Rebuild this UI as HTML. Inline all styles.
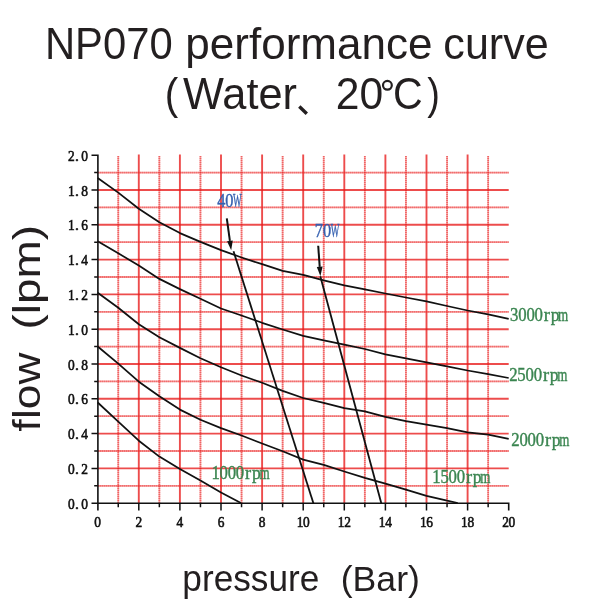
<!DOCTYPE html>
<html><head><meta charset="utf-8"><style>
html,body{margin:0;padding:0;background:#fff;width:597px;height:612px;overflow:hidden}
svg{position:absolute;left:0;top:0;will-change:transform}
.t{font-family:"Liberation Sans",sans-serif;fill:#231f20}
.n{font-family:"Liberation Serif",serif;font-size:15.6px;fill:#111;stroke:#111;stroke-width:0.62}
.g{font-family:"Liberation Serif",serif;font-size:18.6px;fill:#3a8550;stroke:#3a8550;stroke-width:0.4}
.b{font-family:"Liberation Serif",serif;font-size:19px;fill:#3560b0;stroke:#3560b0;stroke-width:0.4}
</style></head><body>
<svg width="597" height="612" viewBox="0 0 597 612">
<line x1="118.25" y1="156.0" x2="118.25" y2="503.2" stroke="rgb(236,40,40)" stroke-opacity="0.45" stroke-width="1.8"/>
<line x1="118.25" y1="156.0" x2="118.25" y2="503.2" stroke="rgb(236,40,40)" stroke-opacity="0.5" stroke-width="1.8" stroke-dasharray="1.1 0.9"/>
<line x1="138.80" y1="154.5" x2="138.80" y2="503.2" stroke="rgb(232,25,25)" stroke-opacity="0.78" stroke-width="1.9"/>
<line x1="159.35" y1="156.0" x2="159.35" y2="503.2" stroke="rgb(236,40,40)" stroke-opacity="0.45" stroke-width="1.8"/>
<line x1="159.35" y1="156.0" x2="159.35" y2="503.2" stroke="rgb(236,40,40)" stroke-opacity="0.5" stroke-width="1.8" stroke-dasharray="1.1 0.9"/>
<line x1="179.90" y1="154.5" x2="179.90" y2="503.2" stroke="rgb(232,25,25)" stroke-opacity="0.78" stroke-width="1.9"/>
<line x1="200.45" y1="156.0" x2="200.45" y2="503.2" stroke="rgb(236,40,40)" stroke-opacity="0.45" stroke-width="1.8"/>
<line x1="200.45" y1="156.0" x2="200.45" y2="503.2" stroke="rgb(236,40,40)" stroke-opacity="0.5" stroke-width="1.8" stroke-dasharray="1.1 0.9"/>
<line x1="221.00" y1="154.5" x2="221.00" y2="503.2" stroke="rgb(232,25,25)" stroke-opacity="0.78" stroke-width="1.9"/>
<line x1="241.55" y1="156.0" x2="241.55" y2="503.2" stroke="rgb(236,40,40)" stroke-opacity="0.45" stroke-width="1.8"/>
<line x1="241.55" y1="156.0" x2="241.55" y2="503.2" stroke="rgb(236,40,40)" stroke-opacity="0.5" stroke-width="1.8" stroke-dasharray="1.1 0.9"/>
<line x1="262.10" y1="154.5" x2="262.10" y2="503.2" stroke="rgb(232,25,25)" stroke-opacity="0.78" stroke-width="1.9"/>
<line x1="282.65" y1="156.0" x2="282.65" y2="503.2" stroke="rgb(236,40,40)" stroke-opacity="0.45" stroke-width="1.8"/>
<line x1="282.65" y1="156.0" x2="282.65" y2="503.2" stroke="rgb(236,40,40)" stroke-opacity="0.5" stroke-width="1.8" stroke-dasharray="1.1 0.9"/>
<line x1="303.20" y1="154.5" x2="303.20" y2="503.2" stroke="rgb(232,25,25)" stroke-opacity="0.78" stroke-width="1.9"/>
<line x1="323.75" y1="156.0" x2="323.75" y2="503.2" stroke="rgb(236,40,40)" stroke-opacity="0.45" stroke-width="1.8"/>
<line x1="323.75" y1="156.0" x2="323.75" y2="503.2" stroke="rgb(236,40,40)" stroke-opacity="0.5" stroke-width="1.8" stroke-dasharray="1.1 0.9"/>
<line x1="344.30" y1="154.5" x2="344.30" y2="503.2" stroke="rgb(232,25,25)" stroke-opacity="0.78" stroke-width="1.9"/>
<line x1="364.85" y1="156.0" x2="364.85" y2="503.2" stroke="rgb(236,40,40)" stroke-opacity="0.45" stroke-width="1.8"/>
<line x1="364.85" y1="156.0" x2="364.85" y2="503.2" stroke="rgb(236,40,40)" stroke-opacity="0.5" stroke-width="1.8" stroke-dasharray="1.1 0.9"/>
<line x1="385.40" y1="154.5" x2="385.40" y2="503.2" stroke="rgb(232,25,25)" stroke-opacity="0.78" stroke-width="1.9"/>
<line x1="405.95" y1="156.0" x2="405.95" y2="503.2" stroke="rgb(236,40,40)" stroke-opacity="0.45" stroke-width="1.8"/>
<line x1="405.95" y1="156.0" x2="405.95" y2="503.2" stroke="rgb(236,40,40)" stroke-opacity="0.5" stroke-width="1.8" stroke-dasharray="1.1 0.9"/>
<line x1="426.50" y1="154.5" x2="426.50" y2="503.2" stroke="rgb(232,25,25)" stroke-opacity="0.78" stroke-width="1.9"/>
<line x1="447.05" y1="156.0" x2="447.05" y2="503.2" stroke="rgb(236,40,40)" stroke-opacity="0.45" stroke-width="1.8"/>
<line x1="447.05" y1="156.0" x2="447.05" y2="503.2" stroke="rgb(236,40,40)" stroke-opacity="0.5" stroke-width="1.8" stroke-dasharray="1.1 0.9"/>
<line x1="467.60" y1="154.5" x2="467.60" y2="503.2" stroke="rgb(232,25,25)" stroke-opacity="0.78" stroke-width="1.9"/>
<line x1="488.15" y1="156.0" x2="488.15" y2="503.2" stroke="rgb(236,40,40)" stroke-opacity="0.45" stroke-width="1.8"/>
<line x1="488.15" y1="156.0" x2="488.15" y2="503.2" stroke="rgb(236,40,40)" stroke-opacity="0.5" stroke-width="1.8" stroke-dasharray="1.1 0.9"/>
<line x1="97.7" y1="485.80" x2="508.7" y2="485.80" stroke="rgb(236,40,40)" stroke-opacity="0.45" stroke-width="1.8"/>
<line x1="97.7" y1="485.80" x2="508.7" y2="485.80" stroke="rgb(236,40,40)" stroke-opacity="0.5" stroke-width="1.8" stroke-dasharray="1.1 0.9"/>
<line x1="97.7" y1="468.40" x2="508.7" y2="468.40" stroke="rgb(232,25,25)" stroke-opacity="0.78" stroke-width="1.9"/>
<line x1="97.7" y1="451.00" x2="508.7" y2="451.00" stroke="rgb(236,40,40)" stroke-opacity="0.45" stroke-width="1.8"/>
<line x1="97.7" y1="451.00" x2="508.7" y2="451.00" stroke="rgb(236,40,40)" stroke-opacity="0.5" stroke-width="1.8" stroke-dasharray="1.1 0.9"/>
<line x1="97.7" y1="433.60" x2="508.7" y2="433.60" stroke="rgb(232,25,25)" stroke-opacity="0.78" stroke-width="1.9"/>
<line x1="97.7" y1="416.20" x2="508.7" y2="416.20" stroke="rgb(236,40,40)" stroke-opacity="0.45" stroke-width="1.8"/>
<line x1="97.7" y1="416.20" x2="508.7" y2="416.20" stroke="rgb(236,40,40)" stroke-opacity="0.5" stroke-width="1.8" stroke-dasharray="1.1 0.9"/>
<line x1="97.7" y1="398.80" x2="508.7" y2="398.80" stroke="rgb(232,25,25)" stroke-opacity="0.78" stroke-width="1.9"/>
<line x1="97.7" y1="381.40" x2="508.7" y2="381.40" stroke="rgb(236,40,40)" stroke-opacity="0.45" stroke-width="1.8"/>
<line x1="97.7" y1="381.40" x2="508.7" y2="381.40" stroke="rgb(236,40,40)" stroke-opacity="0.5" stroke-width="1.8" stroke-dasharray="1.1 0.9"/>
<line x1="97.7" y1="364.00" x2="508.7" y2="364.00" stroke="rgb(232,25,25)" stroke-opacity="0.78" stroke-width="1.9"/>
<line x1="97.7" y1="346.60" x2="508.7" y2="346.60" stroke="rgb(236,40,40)" stroke-opacity="0.45" stroke-width="1.8"/>
<line x1="97.7" y1="346.60" x2="508.7" y2="346.60" stroke="rgb(236,40,40)" stroke-opacity="0.5" stroke-width="1.8" stroke-dasharray="1.1 0.9"/>
<line x1="97.7" y1="329.20" x2="508.7" y2="329.20" stroke="rgb(232,25,25)" stroke-opacity="0.78" stroke-width="1.9"/>
<line x1="97.7" y1="311.80" x2="508.7" y2="311.80" stroke="rgb(236,40,40)" stroke-opacity="0.45" stroke-width="1.8"/>
<line x1="97.7" y1="311.80" x2="508.7" y2="311.80" stroke="rgb(236,40,40)" stroke-opacity="0.5" stroke-width="1.8" stroke-dasharray="1.1 0.9"/>
<line x1="97.7" y1="294.40" x2="508.7" y2="294.40" stroke="rgb(232,25,25)" stroke-opacity="0.78" stroke-width="1.9"/>
<line x1="97.7" y1="277.00" x2="508.7" y2="277.00" stroke="rgb(236,40,40)" stroke-opacity="0.45" stroke-width="1.8"/>
<line x1="97.7" y1="277.00" x2="508.7" y2="277.00" stroke="rgb(236,40,40)" stroke-opacity="0.5" stroke-width="1.8" stroke-dasharray="1.1 0.9"/>
<line x1="97.7" y1="259.60" x2="508.7" y2="259.60" stroke="rgb(232,25,25)" stroke-opacity="0.78" stroke-width="1.9"/>
<line x1="97.7" y1="242.20" x2="508.7" y2="242.20" stroke="rgb(236,40,40)" stroke-opacity="0.45" stroke-width="1.8"/>
<line x1="97.7" y1="242.20" x2="508.7" y2="242.20" stroke="rgb(236,40,40)" stroke-opacity="0.5" stroke-width="1.8" stroke-dasharray="1.1 0.9"/>
<line x1="97.7" y1="224.80" x2="508.7" y2="224.80" stroke="rgb(232,25,25)" stroke-opacity="0.78" stroke-width="1.9"/>
<line x1="97.7" y1="207.40" x2="508.7" y2="207.40" stroke="rgb(236,40,40)" stroke-opacity="0.45" stroke-width="1.8"/>
<line x1="97.7" y1="207.40" x2="508.7" y2="207.40" stroke="rgb(236,40,40)" stroke-opacity="0.5" stroke-width="1.8" stroke-dasharray="1.1 0.9"/>
<line x1="97.7" y1="190.00" x2="508.7" y2="190.00" stroke="rgb(232,25,25)" stroke-opacity="0.78" stroke-width="1.9"/>
<line x1="97.7" y1="172.60" x2="508.7" y2="172.60" stroke="rgb(236,40,40)" stroke-opacity="0.45" stroke-width="1.8"/>
<line x1="97.7" y1="172.60" x2="508.7" y2="172.60" stroke="rgb(236,40,40)" stroke-opacity="0.5" stroke-width="1.8" stroke-dasharray="1.1 0.9"/>
<path d="M91.5 155.20 H97.9 V510.4 M97.7 503.2 H508.7 V510.4" fill="none" stroke="#111" stroke-width="1.6"/>
<path d="M91.5 503.20H97.7M94.2 485.80H97.7M91.5 468.40H97.7M94.2 451.00H97.7M91.5 433.60H97.7M94.2 416.20H97.7M91.5 398.80H97.7M94.2 381.40H97.7M91.5 364.00H97.7M94.2 346.60H97.7M91.5 329.20H97.7M94.2 311.80H97.7M91.5 294.40H97.7M94.2 277.00H97.7M91.5 259.60H97.7M94.2 242.20H97.7M91.5 224.80H97.7M94.2 207.40H97.7M91.5 190.00H97.7M94.2 172.60H97.7M118.25 503.2V507.2M138.80 503.2V510.4M159.35 503.2V507.2M179.90 503.2V510.4M200.45 503.2V507.2M221.00 503.2V510.4M241.55 503.2V507.2M262.10 503.2V510.4M282.65 503.2V507.2M303.20 503.2V510.4M323.75 503.2V507.2M344.30 503.2V510.4M364.85 503.2V507.2M385.40 503.2V510.4M405.95 503.2V507.2M426.50 503.2V510.4M447.05 503.2V507.2M467.60 503.2V510.4M488.15 503.2V507.2" fill="none" stroke="#111" stroke-width="1.5"/>
<path d="M97.70 178.00 L118.25 192.60 L138.80 208.70 L159.35 222.20 L179.90 233.10 L200.45 241.90 L221.00 250.10 L241.55 257.50 L262.10 264.20 L282.65 270.90 L303.20 274.90 L323.75 280.30 L344.30 285.30 L364.85 289.40 L385.40 293.50 L405.95 297.50 L426.50 301.40 L447.05 306.00 L467.60 310.50 L488.15 314.30 L508.70 318.90" fill="none" stroke="#111" stroke-width="1.75" stroke-linejoin="round"/>
<path d="M97.70 241.20 L118.25 253.30 L138.80 265.60 L159.35 278.90 L179.90 289.10 L200.45 298.70 L221.00 308.50 L241.55 315.50 L262.10 322.80 L282.65 329.50 L303.20 335.80 L323.75 340.30 L344.30 344.70 L364.85 349.00 L385.40 354.40 L405.95 358.40 L426.50 362.40 L447.05 366.30 L467.60 370.50 L488.15 374.10 L508.70 378.00" fill="none" stroke="#111" stroke-width="1.75" stroke-linejoin="round"/>
<path d="M97.70 292.80 L118.25 307.80 L138.80 324.20 L159.35 337.30 L179.90 347.90 L200.45 358.20 L221.00 367.20 L241.55 375.50 L262.10 382.80 L282.65 390.90 L303.20 398.00 L323.75 402.90 L344.30 408.20 L364.85 411.40 L385.40 416.80 L405.95 421.10 L426.50 424.60 L447.05 428.20 L467.60 432.40 L488.15 434.70 L508.70 438.80" fill="none" stroke="#111" stroke-width="1.75" stroke-linejoin="round"/>
<path d="M97.70 346.50 L118.25 363.60 L138.80 381.70 L159.35 396.30 L179.90 409.60 L200.45 419.70 L221.00 428.10 L241.55 435.50 L262.10 443.50 L282.65 451.30 L303.20 459.60 L323.75 464.90 L344.30 471.50 L364.85 477.80 L385.40 483.60 L405.95 489.60 L426.50 495.90 L447.05 500.70 L457.74 503.00" fill="none" stroke="#111" stroke-width="1.75" stroke-linejoin="round"/>
<path d="M97.70 402.50 L118.25 421.60 L138.80 440.70 L159.35 456.60 L179.90 469.10 L200.45 480.50 L221.00 492.50 L240.93 503.00" fill="none" stroke="#111" stroke-width="1.75" stroke-linejoin="round"/>
<path d="M233.5 251.2 L313.4 503.2" fill="none" stroke="#111" stroke-width="1.8"/>
<path d="M320.3 276.2 L381.3 503.2" fill="none" stroke="#111" stroke-width="1.8"/>
<path d="M226.80 218.30 L229.90 240.79" stroke="#111" stroke-width="2"/>
<path d="M231.20 250.20 L227.03 241.19 L232.77 240.39Z" fill="#111"/>
<path d="M318.20 245.80 L319.72 266.82" stroke="#111" stroke-width="2"/>
<path d="M320.40 276.30 L316.82 267.03 L322.61 266.62Z" fill="#111"/>
<g class="n"><text transform="translate(71.40 508.70) scale(0.860 1)" text-anchor="middle">0</text><text x="74.9" y="508.70">.</text><text transform="translate(84.70 508.70) scale(0.860 1)" text-anchor="middle">0</text><text transform="translate(71.40 473.90) scale(0.860 1)" text-anchor="middle">0</text><text x="74.9" y="473.90">.</text><text transform="translate(84.70 473.90) scale(0.860 1)" text-anchor="middle">2</text><text transform="translate(71.40 439.10) scale(0.860 1)" text-anchor="middle">0</text><text x="74.9" y="439.10">.</text><text transform="translate(84.70 439.10) scale(0.860 1)" text-anchor="middle">4</text><text transform="translate(71.40 404.30) scale(0.860 1)" text-anchor="middle">0</text><text x="74.9" y="404.30">.</text><text transform="translate(84.70 404.30) scale(0.860 1)" text-anchor="middle">6</text><text transform="translate(71.40 369.50) scale(0.860 1)" text-anchor="middle">0</text><text x="74.9" y="369.50">.</text><text transform="translate(84.70 369.50) scale(0.860 1)" text-anchor="middle">8</text><text transform="translate(71.40 334.70) scale(0.860 1)" text-anchor="middle">1</text><text x="74.9" y="334.70">.</text><text transform="translate(84.70 334.70) scale(0.860 1)" text-anchor="middle">0</text><text transform="translate(71.40 299.90) scale(0.860 1)" text-anchor="middle">1</text><text x="74.9" y="299.90">.</text><text transform="translate(84.70 299.90) scale(0.860 1)" text-anchor="middle">2</text><text transform="translate(71.40 265.10) scale(0.860 1)" text-anchor="middle">1</text><text x="74.9" y="265.10">.</text><text transform="translate(84.70 265.10) scale(0.860 1)" text-anchor="middle">4</text><text transform="translate(71.40 230.30) scale(0.860 1)" text-anchor="middle">1</text><text x="74.9" y="230.30">.</text><text transform="translate(84.70 230.30) scale(0.860 1)" text-anchor="middle">6</text><text transform="translate(71.40 195.50) scale(0.860 1)" text-anchor="middle">1</text><text x="74.9" y="195.50">.</text><text transform="translate(84.70 195.50) scale(0.860 1)" text-anchor="middle">8</text><text transform="translate(71.40 160.70) scale(0.860 1)" text-anchor="middle">2</text><text x="74.9" y="160.70">.</text><text transform="translate(84.70 160.70) scale(0.860 1)" text-anchor="middle">0</text><text transform="translate(97.70 527.40) scale(0.860 1)" text-anchor="middle">0</text><text transform="translate(138.80 527.40) scale(0.860 1)" text-anchor="middle">2</text><text transform="translate(179.90 527.40) scale(0.860 1)" text-anchor="middle">4</text><text transform="translate(221.00 527.40) scale(0.860 1)" text-anchor="middle">6</text><text transform="translate(262.10 527.40) scale(0.860 1)" text-anchor="middle">8</text><text transform="translate(300.00 527.40) scale(0.860 1)" text-anchor="middle">1</text><text transform="translate(306.40 527.40) scale(0.860 1)" text-anchor="middle">0</text><text transform="translate(341.10 527.40) scale(0.860 1)" text-anchor="middle">1</text><text transform="translate(347.50 527.40) scale(0.860 1)" text-anchor="middle">2</text><text transform="translate(382.20 527.40) scale(0.860 1)" text-anchor="middle">1</text><text transform="translate(388.60 527.40) scale(0.860 1)" text-anchor="middle">4</text><text transform="translate(423.30 527.40) scale(0.860 1)" text-anchor="middle">1</text><text transform="translate(429.70 527.40) scale(0.860 1)" text-anchor="middle">6</text><text transform="translate(464.40 527.40) scale(0.860 1)" text-anchor="middle">1</text><text transform="translate(470.80 527.40) scale(0.860 1)" text-anchor="middle">8</text><text transform="translate(505.50 527.40) scale(0.860 1)" text-anchor="middle">2</text><text transform="translate(511.90 527.40) scale(0.860 1)" text-anchor="middle">0</text></g>
<g class="g"><text transform="translate(514.27 320.90) scale(0.900 1)" text-anchor="middle">3</text><text transform="translate(522.42 320.90) scale(0.900 1)" text-anchor="middle">0</text><text transform="translate(530.58 320.90) scale(0.900 1)" text-anchor="middle">0</text><text transform="translate(538.73 320.90) scale(0.900 1)" text-anchor="middle">0</text><text transform="translate(546.88 320.90) scale(0.990 1)" text-anchor="middle">r</text><text transform="translate(555.02 320.90) scale(0.945 1)" text-anchor="middle">p</text><text transform="translate(563.17 320.90) scale(0.702 1)" text-anchor="middle">m</text><text transform="translate(513.38 381.00) scale(0.900 1)" text-anchor="middle">2</text><text transform="translate(521.52 381.00) scale(0.900 1)" text-anchor="middle">5</text><text transform="translate(529.67 381.00) scale(0.900 1)" text-anchor="middle">0</text><text transform="translate(537.83 381.00) scale(0.900 1)" text-anchor="middle">0</text><text transform="translate(545.98 381.00) scale(0.990 1)" text-anchor="middle">r</text><text transform="translate(554.12 381.00) scale(0.945 1)" text-anchor="middle">p</text><text transform="translate(562.27 381.00) scale(0.702 1)" text-anchor="middle">m</text><text transform="translate(515.48 445.50) scale(0.900 1)" text-anchor="middle">2</text><text transform="translate(523.62 445.50) scale(0.900 1)" text-anchor="middle">0</text><text transform="translate(531.77 445.50) scale(0.900 1)" text-anchor="middle">0</text><text transform="translate(539.92 445.50) scale(0.900 1)" text-anchor="middle">0</text><text transform="translate(548.07 445.50) scale(0.990 1)" text-anchor="middle">r</text><text transform="translate(556.23 445.50) scale(0.945 1)" text-anchor="middle">p</text><text transform="translate(564.38 445.50) scale(0.702 1)" text-anchor="middle">m</text><text transform="translate(215.57 478.60) scale(0.900 1)" text-anchor="middle">1</text><text transform="translate(223.72 478.60) scale(0.900 1)" text-anchor="middle">0</text><text transform="translate(231.88 478.60) scale(0.900 1)" text-anchor="middle">0</text><text transform="translate(240.03 478.60) scale(0.900 1)" text-anchor="middle">0</text><text transform="translate(248.18 478.60) scale(0.990 1)" text-anchor="middle">r</text><text transform="translate(256.32 478.60) scale(0.945 1)" text-anchor="middle">p</text><text transform="translate(264.48 478.60) scale(0.702 1)" text-anchor="middle">m</text><text transform="translate(436.47 482.70) scale(0.900 1)" text-anchor="middle">1</text><text transform="translate(444.62 482.70) scale(0.900 1)" text-anchor="middle">5</text><text transform="translate(452.77 482.70) scale(0.900 1)" text-anchor="middle">0</text><text transform="translate(460.92 482.70) scale(0.900 1)" text-anchor="middle">0</text><text transform="translate(469.07 482.70) scale(0.990 1)" text-anchor="middle">r</text><text transform="translate(477.22 482.70) scale(0.945 1)" text-anchor="middle">p</text><text transform="translate(485.38 482.70) scale(0.702 1)" text-anchor="middle">m</text></g>
<g class="b"><text transform="translate(221.22 206.60) scale(0.860 1)" text-anchor="middle">4</text><text transform="translate(229.27 206.60) scale(0.860 1)" text-anchor="middle">0</text><text transform="translate(237.32 206.60) scale(0.482 1)" text-anchor="middle">W</text><text transform="translate(318.92 237.00) scale(0.860 1)" text-anchor="middle">7</text><text transform="translate(326.97 237.00) scale(0.860 1)" text-anchor="middle">0</text><text transform="translate(335.02 237.00) scale(0.482 1)" text-anchor="middle">W</text></g>
<g class="t"><text id="np070" x="44.90" y="59.30" font-size="45" textLength="127.73" lengthAdjust="spacingAndGlyphs">NP070</text><text id="perf" x="185.34" y="59.30" font-size="45" textLength="247.09" lengthAdjust="spacingAndGlyphs">performance</text><text id="curve" x="443.35" y="59.30" font-size="45" textLength="105.31" lengthAdjust="spacingAndGlyphs">curve</text><text id="lparen" x="164.63" y="109.20" font-size="45" textLength="13.50" lengthAdjust="spacingAndGlyphs">(</text><text id="water" x="182.99" y="109.20" font-size="45" textLength="114.01" lengthAdjust="spacingAndGlyphs">Water</text><text id="twenty" x="335.69" y="109.20" font-size="45" textLength="47.44" lengthAdjust="spacingAndGlyphs">20</text><text id="cee" x="392.88" y="109.20" font-size="45" textLength="29.66" lengthAdjust="spacingAndGlyphs">C</text><text id="rparen" x="427.16" y="109.20" font-size="45" textLength="12.62" lengthAdjust="spacingAndGlyphs">)</text><text id="pressure" x="182.35" y="590.80" font-size="37.5" textLength="136.90" lengthAdjust="spacingAndGlyphs">pressure</text><text id="bar" x="340.72" y="590.60" font-size="34.5" textLength="79.14" lengthAdjust="spacingAndGlyphs">(Bar)</text><g transform="translate(40.2 0) rotate(-90)"><text id="flow" x="-431.41" y="0.00" font-size="38" textLength="78.82" lengthAdjust="spacingAndGlyphs">flow</text></g><g transform="translate(40.2 0) rotate(-90)"><text id="lpm" x="-329.55" y="0.00" font-size="38" textLength="104.50" lengthAdjust="spacingAndGlyphs">(lpm)</text></g>
<path d="M299.3 106.6 L306.8 113.8" stroke="#231f20" stroke-width="3.4" stroke-linecap="butt"/>
<circle cx="387.4" cy="85.3" r="4.4" fill="none" stroke="#231f20" stroke-width="2.2"/>
</g>
</svg>
</body></html>
